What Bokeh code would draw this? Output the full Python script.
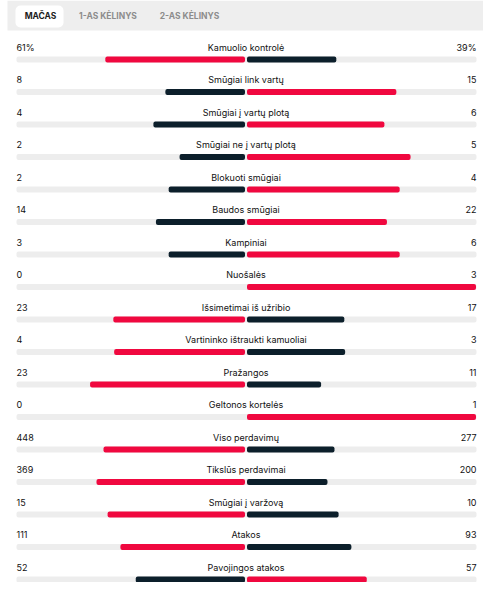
from bokeh.plotting import figure
from bokeh.models import Range1d
from bokeh.core.properties import value
from bokeh.embed import file_html
from bokeh.resources import INLINE

# ---- data ----
stat_labels = ["Kamuolio kontrolė", "Smūgiai link vartų", "Smūgiai į vartų plotą",
               "Smūgiai ne į vartų plotą", "Blokuoti smūgiai", "Baudos smūgiai",
               "Kampiniai", "Nuošalės", "Išsimetimai iš užribio",
               "Vartininko ištraukti kamuoliai", "Pražangos", "Geltonos kortelės",
               "Viso perdavimų", "Tikslūs perdavimai", "Smūgiai į varžovą",
               "Atakos", "Pavojingos atakos"]
home_values = [61, 8, 4, 2, 2, 14, 3, 0, 23, 4, 23, 0, 448, 369, 15, 111, 52]
away_values = [39, 15, 6, 5, 4, 22, 6, 3, 17, 3, 11, 1, 277, 200, 10, 93, 57]
home_texts = ["61%"] + [str(v) for v in home_values[1:]]
away_texts = ["39%"] + [str(v) for v in away_values[1:]]
tab_labels = ["MAČAS", "1-AS KĖLINYS", "2-AS KĖLINYS"]

# ---- style / layout ----
RED = "#f0083f"
DARK = "#0c1f2b"
TRACK = "#ededed"
TEXT = "#111111"
FONT = "Inter"
W, H = 483, 582
X0, X1 = 16, 476
CX = 245.5
HALF = 229.0
ROW0, STEP = 46.5, 32.5

p = figure(width=W, height=H, output_backend="svg", toolbar_location=None,
           x_range=Range1d(0, W), y_range=Range1d(H, 0),
           min_border=0, outline_line_color=None)
p.axis.visible = False
p.grid.visible = False
p.background_fill_color = "white"
p.border_fill_color = "white"

# header
p.quad(left=[7], right=[483], top=[0], bottom=[30], fill_color="#eeeeee", line_color=None)
p.quad(left=[15], right=[63], top=[5], bottom=[27], fill_color="white", line_color=None,
       border_radius=5)
tab_x = [40, 107.5, 189]
tab_colors = ["#1c1c1c", "#8c8c8c", "#8c8c8c"]
p.text(x=tab_x, y=[15.5] * 3, text=tab_labels, text_color=tab_colors,
       text_font=value(FONT), text_font_size="8.5px", text_font_style="bold",
       text_align="center", text_baseline="middle")

n = len(stat_labels)
label_y = [ROW0 + STEP * i for i in range(n)]
bar_y = [y + 12.5 for y in label_y]

# tracks
p.hbar(y=bar_y, left=[X0] * n, right=[X1] * n, height=6, fill_color=TRACK, line_color=None,
       border_radius=2)

lefts, lcols, rights, rcols = [], [], [], []
for h, a in zip(home_values, away_values):
    tot = h + a
    lw = HALF * h / tot if tot else 0
    rw = HALF * a / tot if tot else 0
    lefts.append(CX - 1 - lw)
    rights.append(CX + 1 + rw)
    lcols.append(RED if h > a else DARK)
    rcols.append(RED if a > h else DARK)

p.hbar(y=bar_y, left=lefts, right=[CX - 1] * n, height=6, fill_color=lcols, line_color=None,
       border_radius=2)
p.hbar(y=bar_y, left=[CX + 1] * n, right=rights, height=6, fill_color=rcols, line_color=None,
       border_radius=2)

common = dict(text_font=value(FONT), text_font_size="9px", text_font_style="normal",
              text_color=TEXT, text_baseline="middle")
p.text(x=[CX] * n, y=label_y, text=stat_labels, text_align="center", **common)
p.text(x=[X0] * n, y=label_y, text=home_texts, text_align="left", **common)
p.text(x=[X1] * n, y=label_y, text=away_texts, text_align="right", **common)

open("out.html", "w").write(file_html(p, INLINE))
